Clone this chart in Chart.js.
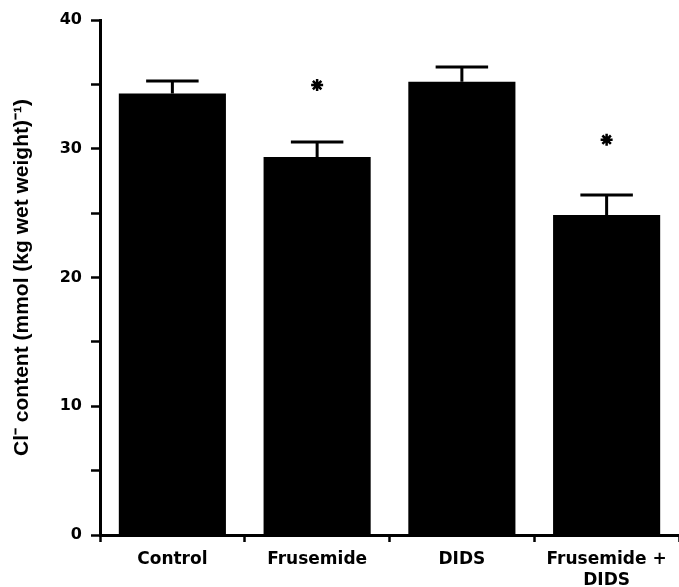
<!DOCTYPE html>
<html>
<head>
<meta charset="utf-8">
<script src="https://cdn.jsdelivr.net/npm/chart.js@4"></script>
<style>
  html, body { margin: 0; padding: 0; background: #fff; overflow: hidden; }
  #wrap { width: 679px; height: 587px; position: relative; }
</style>
</head>
<body>
<div id="wrap"><canvas id="barChart"></canvas></div>
<script>
// groups on the x axis
var categories = [['Control'], ['Frusemide'], ['DIDS'], ['Frusemide +', 'DIDS']];
// Cl- content, mean and SEM
var means = [34.3, 29.35, 35.2, 24.85];
var errors = [0.96, 1.17, 1.15, 1.55];
// significance markers (* P<0.05), placed above the bar
var stars = [null, 34.95, null, 30.7];

Chart.defaults.font.family = "'DejaVu Sans', sans-serif";
Chart.defaults.color = '#000';

// draws the upward error bar with a cap on top of each bar
var errorBars = {
  id: 'errorBars',
  afterDatasetsDraw: function(chart) {
    var ctx = chart.ctx;
    var yScale = chart.scales.y;
    var meta = chart.getDatasetMeta(0);
    ctx.save();
    ctx.strokeStyle = '#000';
    ctx.lineWidth = 3;
    meta.data.forEach(function(bar, i) {
      var yTop = yScale.getPixelForValue(means[i] + errors[i]);
      var half = bar.width * 0.245;
      ctx.beginPath();
      ctx.moveTo(bar.x, bar.y);
      ctx.lineTo(bar.x, yTop);
      ctx.moveTo(bar.x - half, yTop);
      ctx.lineTo(bar.x + half, yTop);
      ctx.stroke();
    });
    ctx.restore();
  }
};

var ctxB = document.getElementById('barChart').getContext('2d');
var myBarChart = new Chart(ctxB, {
  type: 'bar',
  data: {
    labels: categories,
    datasets: [{
      label: 'Cl- content',
      data: means,
      backgroundColor: '#000',
      borderWidth: 0,
      barPercentage: 0.74,
      categoryPercentage: 1
    },
    {
      type: 'line',
      label: 'significance',
      data: stars,
      showLine: false,
      pointStyle: 'star',
      pointRadius: 6,
      borderColor: '#000',
      borderWidth: 2.5,
      backgroundColor: '#000'
    }]
  },
  options: {
    responsive: true,
    maintainAspectRatio: false,
    devicePixelRatio: 1,
    animation: false,
    layout: { autoPadding: false, padding: { top: 20, right: -2, left: 0, bottom: 0 } },
    plugins: {
      legend: { display: false },
      tooltip: { enabled: false }
    },
    scales: {
      x: {
        border: { display: true, color: '#000', width: 3 },
        grid: { drawOnChartArea: false, drawTicks: true, tickLength: 7, tickWidth: 2.5, tickColor: '#000' },
        ticks: { padding: 8, font: { size: 17, weight: 'bold', lineHeight: 1.18 }, maxRotation: 0, autoSkip: false },
        afterFit: function(s) {
          s.height = 52;
          s.paddingRight = 0;
          s.paddingLeft = 0;
        }
      },
      y: {
        min: 0,
        max: 40,
        border: { display: true, color: '#000', width: 3 },
        grid: { drawOnChartArea: false, drawTicks: true, tickLength: 9, tickWidth: 2.5, tickColor: '#000' },
        ticks: {
          stepSize: 5,
          padding: 9,
          font: { size: 16, weight: 'bold' },
          callback: function(v) { return v % 10 === 0 ? v : ''; }
        },
        title: {
          display: true,
          text: 'Cl\u207B content (mmol (kg wet weight)\u207B\u00B9)',
          padding: { top: 10, bottom: 0 },
          font: { family: "'Liberation Sans', Arial, sans-serif", size: 21, weight: 'bold' }
        },
        afterFit: function(s) { s.width = 100; }
      }
    }
  },
  plugins: [errorBars]
});
</script>
</body>
</html>
